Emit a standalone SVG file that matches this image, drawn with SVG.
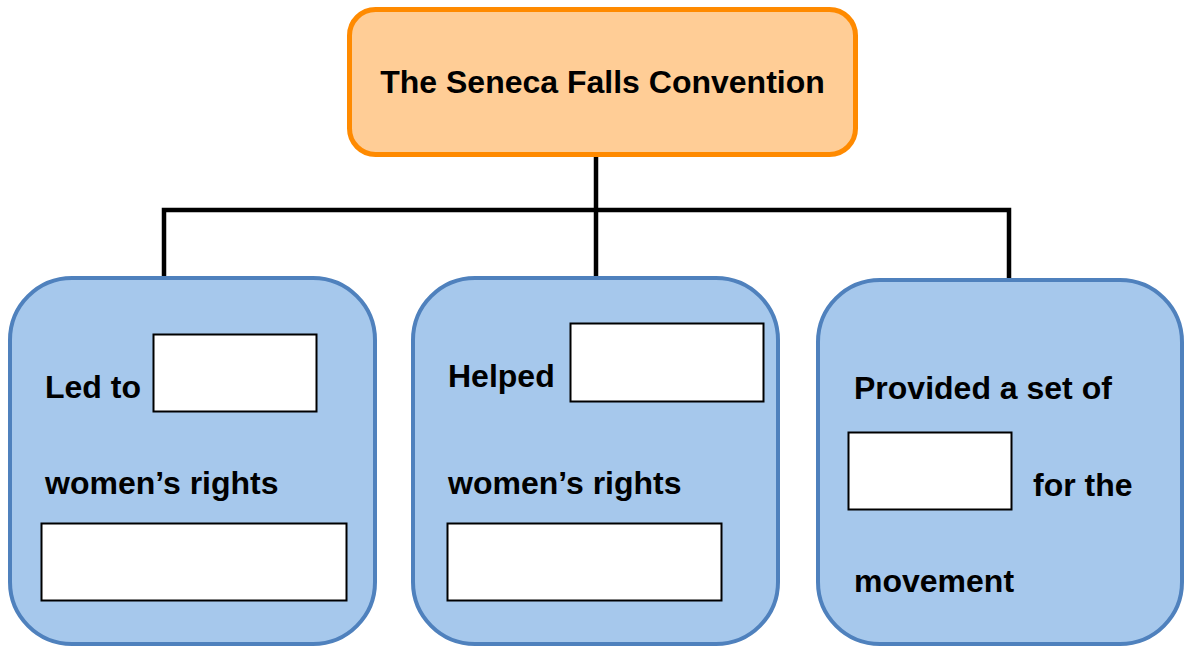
<svg xmlns="http://www.w3.org/2000/svg" width="1184" height="646" viewBox="0 0 1184 646">
<style>
.title{fill:#FFCD96;stroke:#FF8A00;stroke-width:5}
.card{fill:#A6C8EC;stroke:#4F81BD;stroke-width:4}
.blank{fill:#FFFFFF;stroke:#000000;stroke-width:2}
.conn{fill:none;stroke:#000000;stroke-width:4.5}
text{font-family:"Liberation Sans",Arial,sans-serif;font-weight:bold;font-size:32px;fill:#000000}
</style>
<rect width="1184" height="646" fill="#FFFFFF"/>
<g id="connectors">
<line class="conn" x1="596" y1="155" x2="596" y2="277"/>
<polyline class="conn" points="164,277 164,210 1009,210 1009,279"/>
</g>
<g id="title-node">
<rect class="title" x="349.5" y="9.5" width="506" height="145" rx="26"/>
<text x="602.5" y="93" text-anchor="middle">The Seneca Falls Convention</text>
</g>
<g id="node-led-to">
<rect class="card" x="10" y="278" width="365" height="366" rx="62"/>
<text x="45" y="398">Led to</text>
<rect class="blank" x="153.5" y="334.5" width="163" height="77"/>
<text x="45" y="494">women’s rights</text>
<rect class="blank" x="41.5" y="523.5" width="305" height="77"/>
</g>
<g id="node-helped">
<rect class="card" x="413" y="278" width="365" height="366" rx="62"/>
<text x="448" y="387">Helped</text>
<rect class="blank" x="570.5" y="323.5" width="193" height="78"/>
<text x="448" y="494">women’s rights</text>
<rect class="blank" x="447.5" y="523.5" width="274" height="77"/>
</g>
<g id="node-provided">
<rect class="card" x="818" y="280" width="364" height="364" rx="62"/>
<text x="854" y="399">Provided a set of</text>
<rect class="blank" x="848.5" y="432.5" width="163" height="77"/>
<text x="1033" y="496">for the</text>
<text x="854" y="592">movement</text>
</g>
</svg>
